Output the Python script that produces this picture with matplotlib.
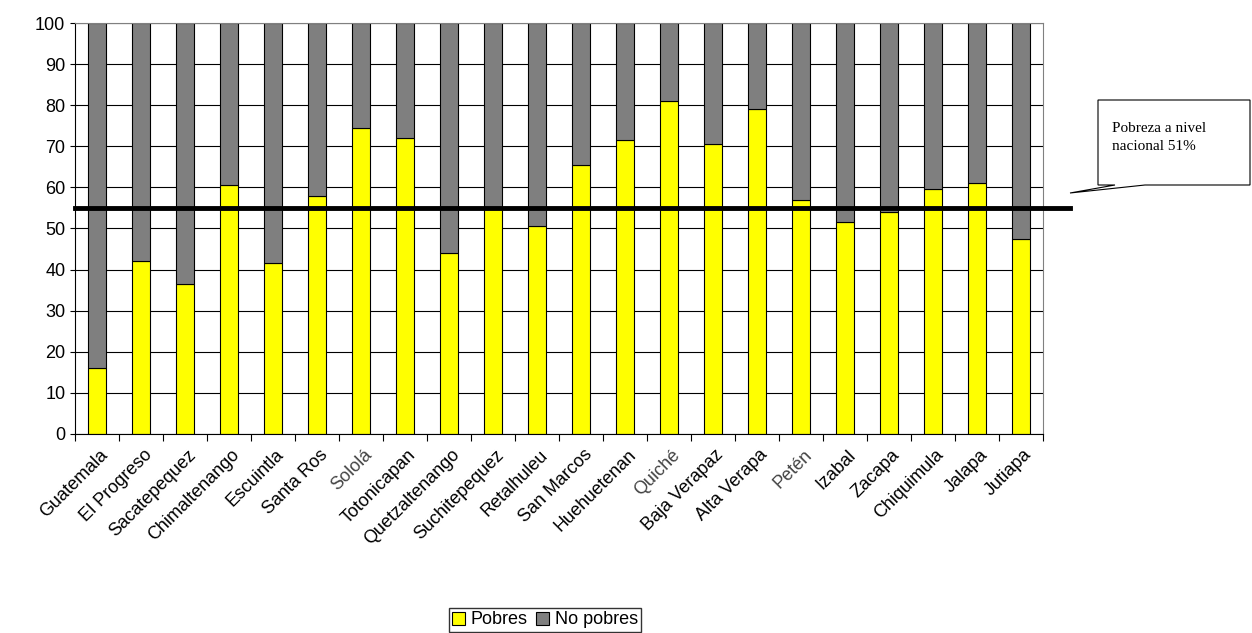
import matplotlib
matplotlib.use("Agg")
import matplotlib.pyplot as plt
from matplotlib.patches import Polygon

categories = ["Guatemala","El Progreso","Sacatepequez","Chimaltenango","Escuintla","Santa Ros",
              "Sololá","Totonicapan","Quetzaltenango","Suchitepequez","Retalhuleu","San Marcos",
              "Huehuetenan","Quiché","Baja Verapaz","Alta Verapa","Petén","Izabal","Zacapa",
              "Chiquimula","Jalapa","Jutiapa"]
pobres = [16, 42, 36.5, 60.5, 41.5, 58, 74.5, 72, 44, 55, 50.5, 65.5, 71.5, 81, 70.5, 79, 57, 51.5, 54, 59.5, 61, 47.5]
no_pobres = [100 - p for p in pobres]
linea = 55

fig = plt.figure(figsize=(12.52, 6.33), dpi=100)
ax = fig.add_axes([75/1252, 1-434/633, (1043-75)/1252, (434-23)/633])
x = list(range(len(categories)))
ax.bar(x, pobres, width=0.4, color="#ffff00", edgecolor="black", linewidth=0.8, label="Pobres")
ax.bar(x, no_pobres, bottom=pobres, width=0.4, color="#7f7f7f", edgecolor="black", linewidth=0.8, label="No pobres")
ax.set_xlim(-0.5, len(categories)-0.5)
ax.set_ylim(0, 100)
ax.set_yticks(range(0, 101, 10))
ax.yaxis.grid(True, color="black", linewidth=0.8)
ax.set_axisbelow(True)
ax.set_xticks([i - 0.5 for i in x] + [len(x)-0.5], minor=False)
ax.set_xticklabels([""]*(len(x)+1))
ax.tick_params(axis="x", length=5)
for i, c in enumerate(categories):
    col = "#444444" if c in ("Sololá","Quiché","Petén") else "black"
    ax.text(i + 0.05, -3, c, rotation=45, ha="right", va="top", fontsize=13, color=col,
            family="Liberation Sans", rotation_mode="anchor")
for t in ax.get_yticklabels():
    t.set_fontsize(13); t.set_family("Liberation Sans")
for s in ax.spines.values():
    s.set_color("#808080")
ax.spines["bottom"].set_color("black")
ax.spines["left"].set_color("black")

y55 = 1 - (434 - 411*0.55)/633
fig.add_artist(plt.Line2D([75/1252, 1070/1252], [y55, y55], color="black", linewidth=3.5))
pts = [[1098,100],[1250,100],[1250,185],[1145,185],[1070,193],[1115,185],[1098,185]]
box = Polygon([[px/1252, 1-py/633] for px, py in pts], closed=True, transform=fig.transFigure,
              facecolor="white", edgecolor="black", linewidth=0.8)
fig.add_artist(box)
fig.text(1112/1252, 1-122/633, "Pobreza a nivel\nnacional 51%", family="Liberation Serif",
         fontsize=11, va="top", linespacing=1.5)

fig.legend(loc="center", bbox_to_anchor=(545/1252, 1-620/633), ncol=2, frameon=True,
           fancybox=False, edgecolor="black", handlelength=0.7,
           handleheight=0.7, columnspacing=0.5, handletextpad=0.3, borderpad=0.2,
           prop={"family": "Liberation Sans", "size": 13})
fig.savefig("out.png")
